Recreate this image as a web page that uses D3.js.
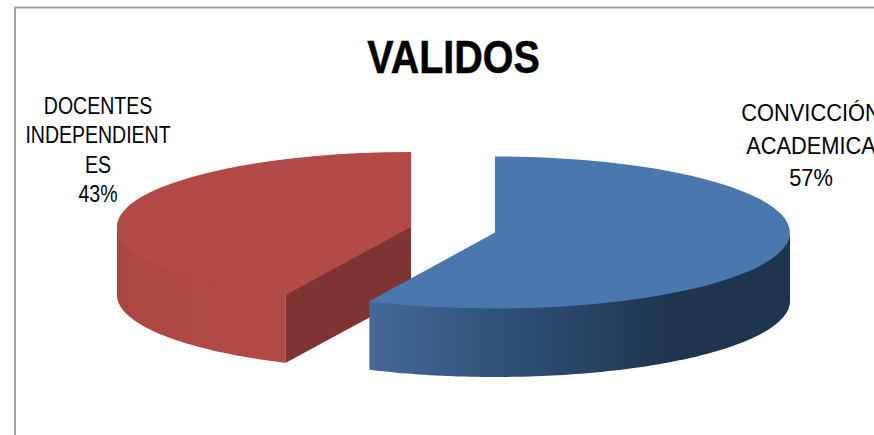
<!DOCTYPE html>
<html><head><meta charset="utf-8">
<script src="https://cdn.jsdelivr.net/npm/d3@7"></script>
<style>html,body{margin:0;padding:0;background:#fff;overflow:hidden}svg{display:block}
text{font-family:"Liberation Sans",Arial,sans-serif;fill:#000}</style>
</head><body><svg id="c" width="874" height="435"></svg>
<script>
const categories = ["CONVICCIÓN ACADEMICA", "DOCENTES INDEPENDIENTES"];
const values = [57, 43];
const labelLines = [["CONVICCIÓN", "ACADEMICA", "57%"], ["DOCENTES", "INDEPENDIENT", "ES", "43%"]];
const titleText = "VALIDOS";

const W = 874, H = 435;
const svg = d3.select("#c");
const defs = svg.append("defs");

function grad(id, x1, x2, stops){
  const g = defs.append("linearGradient").attr("id", id)
    .attr("gradientUnits","userSpaceOnUse").attr("x1",x1).attr("x2",x2).attr("y1",0).attr("y2",0);
  stops.forEach(s => g.append("stop").attr("offset",s[0]).attr("stop-color",s[1]));
}
grad("sideBlue", 370, 690, [[0,"#44699a"],[0.45,"#2f4f75"],[0.95,"#1f344f"],[1,"#1f344f"]]);
grad("sideRed", 117, 285, [[0,"#ab4643"],[0.4,"#af4946"],[1,"#b24a47"]]);

// frame
svg.append("path").attr("d",`M15,${H}V7.5H${W}`).attr("fill","none").attr("stroke","#a3a3a3").attr("stroke-width",2);

const pie = d3.pie().sort(null).value(d=>d)(values);
const layout = [
  {cx:495, cy:232.5, rx:295, ry:76, depth:68.5, top:"#4a78ae", side:"url(#sideBlue)", face:null},
  {cx:411, cy:227, rx:294, ry:75, depth:68, top:"#b24a47", side:"url(#sideRed)", face:"#7f3332"}
];
const angle = d3.scaleLinear().domain([0,1]);

function pt(l,a,dy=0){ return [l.cx + l.rx*Math.sin(a), l.cy - l.ry*Math.cos(a) + dy]; }
const line = d3.line();
[1,0].forEach(i=>{
  const s = pie[i], l = layout[i];
  const g = svg.append("g");
  const a0 = s.startAngle, a1 = s.endAngle;
  angle.range([a0,a1]);
  const samples = d3.range(0,1.0001,1/180).map(t=>angle(t));
  // outer side wall: front half only, tucked 1px under the top to avoid a seam
  const front = samples.filter(a=>Math.cos(a)<=0);
  const up = front.map(a=>pt(l,a,-1));
  const down = front.slice().reverse().map(a=>pt(l,a,l.depth));
  g.append("path").attr("d",line(up.concat(down))+"Z").attr("fill",l.side);
  // cut face
  if(l.face){
    const c = [l.cx,l.cy-1], e = pt(l,a0,-1), b = pt(l,a0,l.depth);
    g.append("path").attr("d",line([c,e,b,[l.cx,l.cy+l.depth]])+"Z").attr("fill",l.face);
  }
  // top
  const arc = d3.arc().innerRadius(0).outerRadius(1);
  g.append("path")
    .attr("transform",`translate(${l.cx},${l.cy}) scale(${l.rx},${l.ry})`)
    .attr("d",arc({startAngle:a0,endAngle:a1})).attr("fill",l.top);
});

svg.append("text").attr("transform","translate(453.5,73) scale(0.84,1)").attr("text-anchor","middle")
  .attr("font-size",47).attr("font-weight","bold").attr("stroke","#000").attr("stroke-width",0.5).text(titleText);

const labelPos = [{x:811, y:121, dy:32.5, size:24.5, sx:0.89},{x:98, y:114, dy:29.3, size:23.5, sx:0.83}];
labelLines.forEach((ls,i)=>{
  const p = labelPos[i];
  ls.forEach((t,j)=>svg.append("text")
    .attr("transform",`translate(${p.x},${p.y+j*p.dy}) scale(${p.sx},1)`)
    .attr("text-anchor","middle").attr("font-size",p.size).text(t));
});
</script></body></html>
